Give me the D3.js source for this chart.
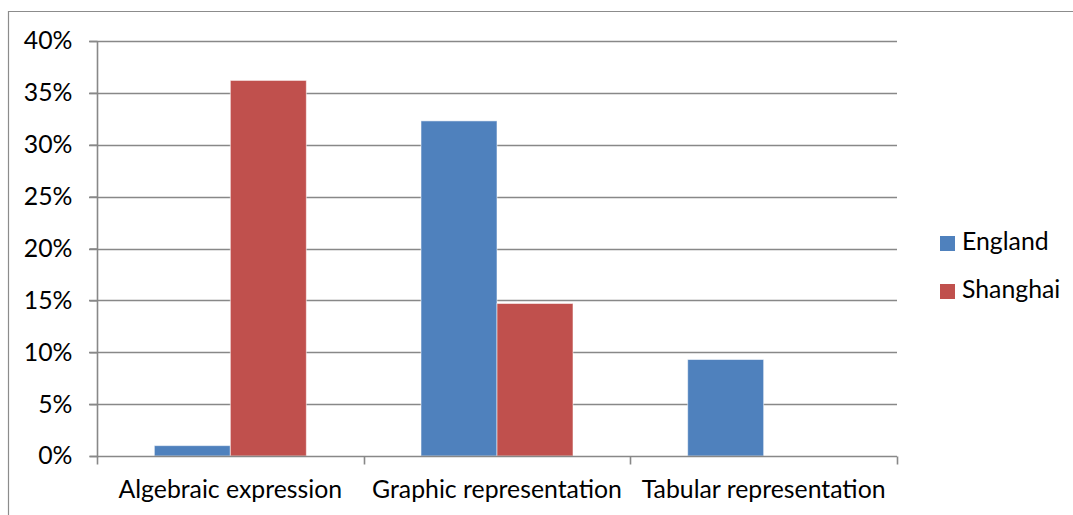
<!DOCTYPE html>
<html><head><meta charset="utf-8">
<script src="https://cdn.jsdelivr.net/npm/d3@7/dist/d3.min.js"></script>
<style>
html,body{margin:0;padding:0;background:#fff;}
svg{display:block;font-family:Lato, "Open Sans", sans-serif;}
</style></head>
<body>
<svg id="c" width="1073" height="515"></svg>
<script>
const categories = ["Algebraic expression", "Graphic representation", "Tabular representation"];
const seriesNames = ["England", "Shanghai"];
const england = [0.010, 0.323, 0.093];
const shanghai = [0.362, 0.147, 0.0];
const yTicks = [0, 0.05, 0.10, 0.15, 0.20, 0.25, 0.30, 0.35, 0.40];
const colors = ["#4F81BD", "#C0504D"];

(function () {
const svg = d3.select("#c");
const pLeft = 97, pRight = 897, pTop = 41, pBottom = 456;

// outer frame (top and left visible)
svg.append("path").attr("d", "M8.5,515 L8.5,11.5 L1073,11.5")
  .attr("fill", "none").attr("stroke", "#8c8c8c").attr("stroke-width", 1.2);

const y = d3.scaleLinear().domain([0, 0.40]).range([pBottom, pTop]);
const x0 = d3.scaleBand().domain(categories).range([pLeft, pRight]).paddingInner(0).paddingOuter(0);
const bandW = x0.bandwidth();
const barW = bandW * 0.285;
const x1 = d3.scaleBand().domain(seriesNames).range([bandW/2 - barW, bandW/2 + barW]).padding(0);

const gridColor = "#888888";
svg.append("g").selectAll("line").data(yTicks.filter(d => d > 0)).join("line")
  .attr("x1", pLeft - 8).attr("x2", pRight)
  .attr("y1", d => Math.round(y(d)) + 0.5).attr("y2", d => Math.round(y(d)) + 0.5)
  .attr("stroke", gridColor).attr("stroke-width", 1.6);

const yAxis = d3.axisLeft(y).tickValues(yTicks).tickFormat(d3.format(".0%")).tickSize(8).tickPadding(17);
const ya = svg.append("g").attr("transform", `translate(${pLeft + 0.5},0)`).call(yAxis);
ya.select(".domain").attr("stroke", gridColor).attr("stroke-width", 1.6).attr("d", `M-8,${pBottom + 0.5}H0V${pTop}`);
ya.selectAll(".tick line").attr("stroke", gridColor).attr("stroke-width", 1.6);
ya.selectAll(".tick text").attr("fill", "#000").style("font-size", "20px").style("font-family", "Lato, 'Open Sans', sans-serif");

const groups = svg.append("g").selectAll("g").data(categories).join("g")
  .attr("transform", d => `translate(${x0(d)},0)`);
groups.selectAll("rect").data((d, i) => [
  {s: "England", v: england[i]}, {s: "Shanghai", v: shanghai[i]}
].filter(e => e.v > 0)).join("rect")
  .attr("x", d => x1(d.s)).attr("width", x1.bandwidth())
  .attr("y", d => y(d.v)).attr("height", d => pBottom - y(d.v))
  .attr("fill", d => colors[seriesNames.indexOf(d.s)])
  .attr("stroke", "rgba(255,255,255,0.55)").attr("stroke-width", 1);

const xAxis = d3.axisBottom(x0).tickSize(0).tickPadding(0);
const xa = svg.append("g").attr("transform", `translate(0,${pBottom + 0.5})`).call(xAxis);
xa.select(".domain").attr("stroke", gridColor).attr("stroke-width", 1.6).attr("d", `M${pLeft},0H${pRight}`);
xa.selectAll(".tick text").attr("fill", "#000").attr("dy", null).attr("y", 41)
  .style("font-size", "20px").style("font-family", "Lato, 'Open Sans', sans-serif");
const sepPositions = categories.map(c => x0(c)).concat([pRight]);
xa.append("g").selectAll("line").data(sepPositions).join("line")
  .attr("x1", d => Math.round(d) + 0.5).attr("x2", d => Math.round(d) + 0.5)
  .attr("y1", 0).attr("y2", 8).attr("stroke", gridColor).attr("stroke-width", 1.6);

const probe = xa.selectAll(".tick text").nodes()[1];
const w = probe.getComputedTextLength();
const fs = 20 * 250 / w;
xa.selectAll(".tick text").style("font-size", fs + "px");
ya.selectAll(".tick text").style("font-size", fs + "px");

const lg = svg.append("g").selectAll("g").data(seriesNames).join("g")
  .attr("transform", (d, i) => `translate(940,${236 + i * 48})`);
lg.append("rect").attr("width", 15).attr("height", 15).attr("fill", (d, i) => colors[i]);
lg.append("text").attr("x", 22).attr("y", 14).text(d => d)
  .style("font-size", fs + "px").attr("fill", "#000");
})();
</script>
</body></html>
